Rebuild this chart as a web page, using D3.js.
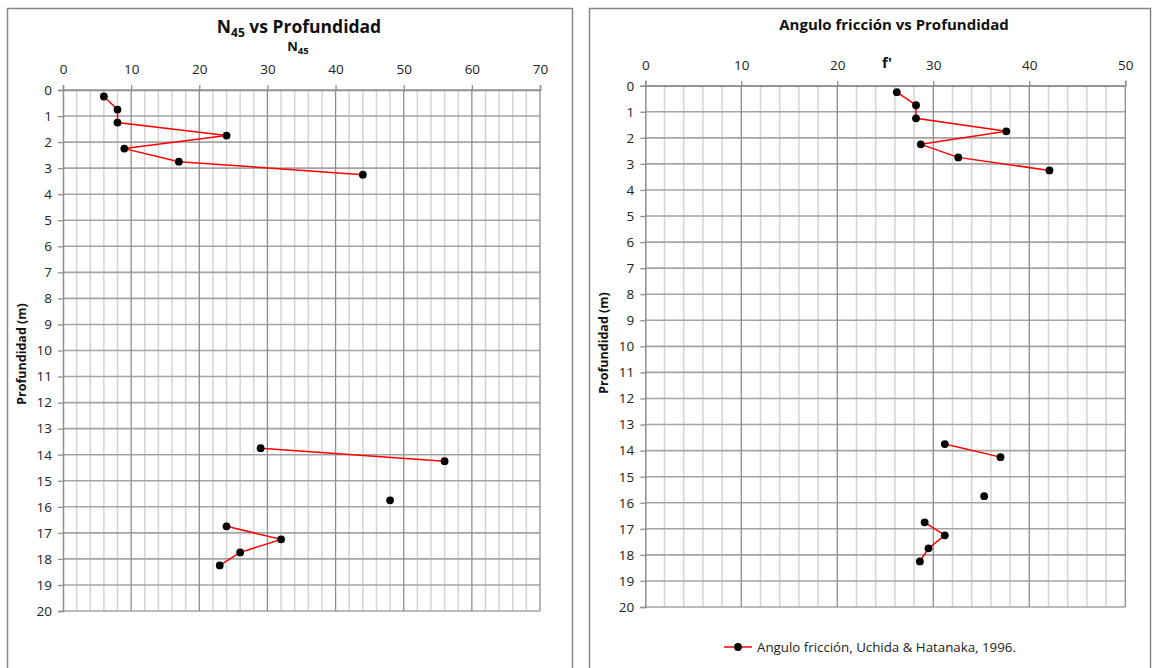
<!DOCTYPE html>
<html>
<head>
<meta charset="utf-8">
<script src="https://cdn.jsdelivr.net/npm/d3@7"></script>
<style>
  html, body { margin: 0; padding: 0; background: #fff; }
  svg { display: block; font-family: "Open Sans", "DejaVu Sans", sans-serif; }
</style>
</head>
<body>
<svg id="chart" width="1155" height="668"></svg>
<script>
// Depth of each test (m), shared by both profiles
const depths = [0.25, 0.75, 1.25, 1.75, 2.25, 2.75, 3.25, 3.75, 4.25, 4.75,
                5.25, 5.75, 6.25, 6.75, 7.25, 7.75, 8.25, 8.75, 9.25, 9.75,
                10.25, 10.75, 11.25, 11.75, 12.25, 12.75, 13.25, 13.75, 14.25, 14.75,
                15.25, 15.75, 16.25, 16.75, 17.25, 17.75, 18.25];

// N45 blow counts (null = no reading)
const n45 = [6, 8, 8, 24, 9, 17, 44, null, null, null,
             null, null, null, null, null, null, null, null, null, null,
             null, null, null, null, null, null, null, 29, 56, null,
             null, 48, null, 24, 32, 26, 23];

// Friction angle (degrees), Uchida & Hatanaka 1996
const friction = [26.2, 28.2, 28.2, 37.6, 28.7, 32.6, 42.1, null, null, null,
                  null, null, null, null, null, null, null, null, null, null,
                  null, null, null, null, null, null, null, 31.2, 37.0, null,
                  null, 35.3, null, 29.1, 31.2, 29.5, 28.6];

const depthTicks = d3.range(0, 21, 1);
const n45Ticks = [0, 10, 20, 30, 40, 50, 60, 70];
const frictionTicks = [0, 10, 20, 30, 40, 50];

const legendLabel = "Angulo fricción, Uchida & Hatanaka, 1996.";

const svg = d3.select("#chart");

function panel(cfg) {
  const g = svg.append("g");

  // chart frame
  g.append("rect")
    .attr("x", cfg.frame[0] + 0.5).attr("y", cfg.frame[1] + 0.5)
    .attr("width", cfg.frame[2]).attr("height", cfg.frame[3])
    .attr("fill", "#fff").attr("stroke", "#878787").attr("stroke-width", 1.5);

  const x = d3.scaleLinear().domain(cfg.xDomain).range(cfg.xRange);
  const y = d3.scaleLinear().domain([0, 20]).range(cfg.yRange);

  // minor vertical grid every 2 units
  const minor = d3.range(cfg.xDomain[0], cfg.xDomain[1] + 0.001, 2).filter(v => v % 10 !== 0);
  g.append("g").selectAll("line").data(minor).join("line")
    .attr("x1", d => x(d)).attr("x2", d => x(d))
    .attr("y1", y(0)).attr("y2", y(20))
    .attr("stroke", "#d4d4d4").attr("stroke-width", 1.5);

  // horizontal grid at every metre
  g.append("g").selectAll("line").data(depthTicks).join("line")
    .attr("x1", x(cfg.xDomain[0])).attr("x2", x(cfg.xDomain[1]))
    .attr("y1", d => y(d)).attr("y2", d => y(d))
    .attr("stroke", "#a4a4a4").attr("stroke-width", 1.6);

  // major vertical grid at every 10
  g.append("g").selectAll("line").data(cfg.xTicks.slice(1)).join("line")
    .attr("x1", d => x(d)).attr("x2", d => x(d))
    .attr("y1", y(0)).attr("y2", y(20))
    .attr("stroke", "#8e8e8e").attr("stroke-width", 1.3);

  // top axis
  const xAxis = d3.axisTop(x).tickValues(cfg.xTicks).tickSize(5).tickPadding(cfg.xPad)
    .tickFormat(d3.format("d"));
  const xa = g.append("g").attr("transform", `translate(0,${y(0)})`).call(xAxis);
  xa.select(".domain").attr("stroke", "#8e8e8e").attr("stroke-width", 1.5);
  xa.selectAll(".tick line").attr("stroke", "#8e8e8e").attr("stroke-width", 1.3);
  xa.selectAll("text").attr("font-size", 13.5).attr("fill", "#222")
    .attr("font-family", "'Open Sans', sans-serif");

  // left depth axis
  const yAxis = d3.axisLeft(y).tickValues(depthTicks).tickSize(5).tickPadding(6)
    .tickFormat(d3.format("d"));
  const ya = g.append("g").attr("transform", `translate(${x(cfg.xDomain[0])},0)`).call(yAxis);
  ya.select(".domain").attr("stroke", "#8e8e8e").attr("stroke-width", 1.5);
  ya.selectAll(".tick line").attr("stroke", "#8e8e8e").attr("stroke-width", 1.3);
  ya.selectAll("text").attr("font-size", 13.5).attr("fill", "#222")
    .attr("font-family", "'Open Sans', sans-serif");

  // data line (gaps where no reading)
  const pts = depths.map((d, i) => ({ depth: d, v: cfg.values[i] }));
  const line = d3.line().defined(d => d.v !== null).x(d => x(d.v)).y(d => y(d.depth));
  g.append("path").datum(pts).attr("d", line)
    .attr("fill", "none").attr("stroke", "#ff0000").attr("stroke-width", 1.5);
  g.append("g").selectAll("circle").data(pts.filter(d => d.v !== null)).join("circle")
    .attr("cx", d => x(d.v)).attr("cy", d => y(d.depth)).attr("r", 3.9)
    .attr("fill", "#000");

  // y axis title
  g.append("text")
    .attr("transform", `translate(${cfg.yTitleX},${cfg.yTitleY}) rotate(-90)`)
    .attr("text-anchor", "middle").attr("dy", "0.35em")
    .attr("font-size", 12.5).attr("font-weight", "bold").attr("fill", "#111")
    .text("Profundidad (m)");

  return { g, x, y };
}

// ---- N45 profile ----
const left = panel({
  frame: [7, 8, 565, 680],
  xDomain: [0, 70], xRange: [63, 540], yRange: [90, 611],
  xTicks: n45Ticks, values: n45, xPad: 11, yTitleX: 22, yTitleY: 354
});

const t1 = left.g.append("text").attr("x", 299).attr("y", 33)
  .attr("text-anchor", "middle").attr("font-size", 17.5).attr("font-weight", "bold").attr("fill", "#111");
t1.append("tspan").text("N");
t1.append("tspan").attr("font-size", 12).attr("dy", 4).text("45");
t1.append("tspan").attr("dy", -4).text(" vs Profundidad");

const t2 = left.g.append("text").attr("x", 298).attr("y", 51)
  .attr("text-anchor", "middle").attr("font-size", 13).attr("font-weight", "bold").attr("fill", "#111");
t2.append("tspan").text("N");
t2.append("tspan").attr("font-size", 9.5).attr("dy", 3).text("45");

// ---- Friction angle profile ----
const right = panel({
  frame: [589, 8, 561, 680],
  xDomain: [0, 50], xRange: [645.3, 1125.3], yRange: [85.7, 607],
  xTicks: frictionTicks, values: friction, xPad: 11, yTitleX: 604, yTitleY: 343
});

right.g.append("text").attr("x", 894).attr("y", 30)
  .attr("text-anchor", "middle").attr("font-size", 15).attr("font-weight", "bold").attr("fill", "#111")
  .text("Angulo fricción vs Profundidad");

right.g.append("text").attr("x", 887).attr("y", 68)
  .attr("text-anchor", "middle").attr("font-size", 15).attr("font-weight", "bold").attr("fill", "#111")
  .text("f'");

// legend
const lg = right.g.append("g").attr("transform", "translate(724,647)");
lg.append("line").attr("x1", 0).attr("x2", 28).attr("y1", 0).attr("y2", 0)
  .attr("stroke", "#ff0000").attr("stroke-width", 1.5);
lg.append("circle").attr("cx", 14).attr("cy", 0).attr("r", 3.9).attr("fill", "#000");
lg.append("text").attr("x", 33).attr("y", 0).attr("dy", "0.35em")
  .attr("font-size", 13.3).attr("fill", "#222").text(legendLabel);
</script>
</body>
</html>
